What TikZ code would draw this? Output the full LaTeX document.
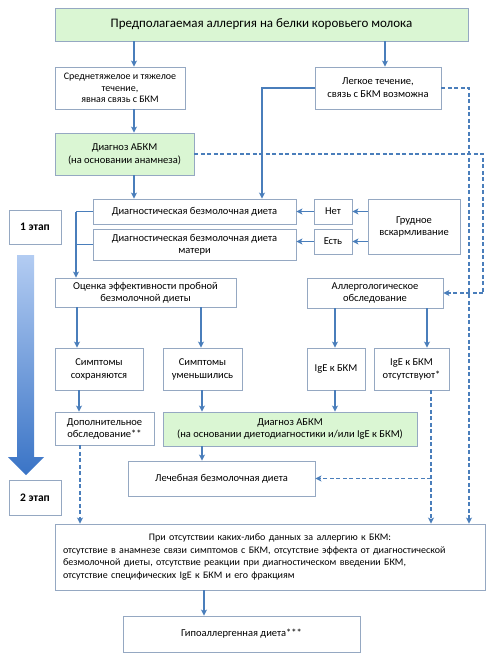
\documentclass[tikz,border=0pt]{standalone}
\usepackage{fontspec}
\setmainfont{Carlito}
\usetikzlibrary{arrows.meta,shadows}
\definecolor{arrblue}{HTML}{4A7EBB}
\definecolor{boxline}{HTML}{95A8C2}
\definecolor{greenfill}{HTML}{DAF6D3}
\definecolor{bigtop}{HTML}{B3CCF2}
\definecolor{bigbot}{HTML}{3A74C6}
\tikzset{
  x=1pt,y=1pt,
  box/.style={draw=boxline,line width=0.8pt,fill=white,align=center,inner sep=1pt,font=\fontsize{10.5}{12}\selectfont},
  gbox/.style={box,fill=greenfill,drop shadow={shadow xshift=1.2pt,shadow yshift=-1.2pt,opacity=0.25}},
  arr/.style={draw=arrblue,line width=1.4pt,-{Stealth[length=6pt,width=6pt,inset=1.5pt]}},
  lineb/.style={draw=arrblue,line width=1.4pt},
  darr/.style={draw=arrblue,line width=1.3pt,dash pattern=on 4pt off 2.5pt,-{Stealth[length=6pt,width=6pt,inset=1.5pt]}},
  dline/.style={draw=arrblue,line width=1.3pt,dash pattern=on 4pt off 2.5pt},
}
\begin{document}
\begin{tikzpicture}
\useasboundingbox (0,0) rectangle (491,-654);
% nodes
\node[gbox,minimum width=413,minimum height=33,font=\fontsize{13}{15}\selectfont] (top) at (261.5,-24.5) {Предполагаемая аллергия на белки коровьего молока};
\node[box,minimum width=130,minimum height=42,font=\fontsize{10}{11.5}\selectfont] (med) at (120,-88) {Среднетяжелое и тяжелое\\течение,\\явная связь с БКМ};
\node[box,minimum width=126,minimum height=42,font=\fontsize{10.5}{13}\selectfont] (light) at (378,-88) {Легкое течение,\\связь с БКМ возможна};
\node[gbox,minimum width=139,minimum height=42,font=\fontsize{10.5}{13}\selectfont] (diag1) at (124.5,-154) {Диагноз АБКМ\\(на основании анамнеза)};
\node[box,minimum width=203,minimum height=25] (diet) at (194.5,-211.5) {Диагностическая безмолочная диета};
\node[box,minimum width=203,minimum height=31] (dietm) at (194.5,-244.5) {Диагностическая безмолочная диета\\матери};
\node[box,minimum width=38,minimum height=25] (net) at (333,-211.5) {Нет};
\node[box,minimum width=38,minimum height=25] (est) at (333,-241.5) {Есть};
\node[box,minimum width=92,minimum height=55] (breast) at (414,-226.5) {Грудное\\вскармливание};
\node[box,minimum width=52,minimum height=34,font=\fontsize{11.5}{13}\selectfont\bfseries] (st1) at (35,-227) {1 этап};
\node[box,minimum width=52,minimum height=35,font=\fontsize{11.5}{13}\selectfont\bfseries] (st2) at (35,-497.5) {2 этап};
\node[box,minimum width=181,minimum height=29] (eval) at (145.5,-292.5) {Оценка эффективности пробной\\безмолочной диеты};
\node[box,minimum width=136,minimum height=30] (allerg) at (375,-293) {Аллергологическое\\обследование};
\node[box,minimum width=88,minimum height=42,font=\fontsize{10.5}{13}\selectfont] (symp1) at (99,-369) {Симптомы\\сохраняются};
\node[box,minimum width=79,minimum height=42,font=\fontsize{10.5}{13}\selectfont] (symp2) at (202.5,-369) {Симптомы\\уменьшились};
\node[box,minimum width=58,minimum height=42] (ige) at (336,-369) {IgE к БКМ};
\node[box,minimum width=75,minimum height=42,font=\fontsize{10.5}{13}\selectfont] (igeno) at (411.5,-369) {IgE к БКМ\\отсутствуют*};
\node[box,minimum width=99,minimum height=33] (extra) at (104.5,-428.5) {Дополнительное\\обследование**};
\node[gbox,minimum width=254,minimum height=34] (diag2) at (290,-429) {Диагноз АБКМ\\(на основании диетодиагностики и/или IgE к БКМ)};
\node[box,minimum width=187,minimum height=35] (treat) at (221.5,-478.5) {Лечебная безмолочная диета};
\node[box,minimum width=430,minimum height=66,text width=414,align=left,inner sep=8pt,font=\fontsize{10}{12.5}\selectfont] (big) at (270,-557) {\makebox[\linewidth]{При отсутствии каких-либо данных за аллергию к БКМ:}\\отсутствие в анамнезе связи симптомов с БКМ, отсутствие эффекта от диагностической\\безмолочной диеты, отсутствие реакции при диагностическом введении БКМ,\\отсутствие специфических IgE к БКМ и его фракциям};
\node[box,minimum width=237,minimum height=36] (hypo) at (241.5,-634) {Гипоаллергенная диета***};
% big gradient arrow
\shade[top color=bigtop,bottom color=bigbot] (17,-255) -- (34,-255) -- (34,-457) -- (44,-457) -- (26,-475) -- (8,-457) -- (17,-457) -- cycle;
% x coordinates
\coordinate (xa) at (134,0);
\coordinate (xb) at (385,0);
\coordinate (xc) at (262,0);
\coordinate (xd) at (469,0);
\coordinate (xe) at (483,0);
\coordinate (xf) at (76,0);
\coordinate (xg) at (77,0);
\coordinate (xh) at (201,0);
\coordinate (xi) at (335,0);
\coordinate (xj) at (427,0);
\coordinate (xk) at (79,0);
\coordinate (xl) at (202,0);
\coordinate (xm) at (431,0);
\coordinate (xn) at (80,0);
\coordinate (xo) at (204,0);
% connectors
\draw[arr] (top.south -| xa) -- (med.north -| xa);
\draw[arr] (top.south -| xb) -- (light.north -| xb);
\draw[arr] (med.south -| xa) -- (diag1.north -| xa);
\draw[arr] (diag1.south -| xa) -- (diet.north -| xa);
\draw[arr] (light.west) -| (diet.north -| xc);
\draw[darr] (light.east) -| (big.north -| xd);
\draw[dline] (diag1.east) -| (xe |- allerg.east);
\draw[darr] (xe |- allerg.east) -- (allerg.east);
\draw[arr] (breast.west |- net) -- (net.east);
\draw[arr] (breast.west |- est) -- (est.east);
\draw[arr] (net.west) -- (diet.east |- net);
\draw[arr] (est.west) -- (dietm.east |- est);
\draw[lineb] (diet.west) -- (diet.west -| xf);
\draw[lineb] (dietm.west) -- (dietm.west -| xf);
\draw[arr] (diet.west -| xf) -- (eval.north -| xf);
\draw[arr] (eval.south -| xg) -- (symp1.north -| xg);
\draw[arr] (eval.south -| xh) -- (symp2.north -| xh);
\draw[arr] (allerg.south -| xi) -- (ige.north -| xi);
\draw[arr] (allerg.south -| xj) -- (igeno.north -| xj);
\draw[arr] (symp1.south -| xk) -- (extra.north -| xk);
\draw[arr] (symp2.south -| xl) -- (diag2.north -| xl);
\draw[arr] (ige.south -| xi) -- (diag2.north -| xi);
\draw[arr] (diag2.south -| xl) -- (treat.north -| xl);
\draw[darr] (igeno.south -| xm) -- (big.north -| xm);
\draw[darr] (xm |- treat.east) -- (treat.east);
\draw[darr] (extra.south -| xn) -- (big.north -| xn);
\draw[arr] (big.south -| xo) -- (hypo.north -| xo);
\end{tikzpicture}
\end{document}
